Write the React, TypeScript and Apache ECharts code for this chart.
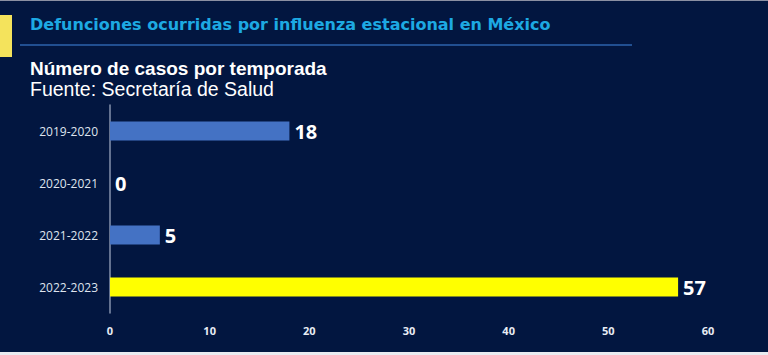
import React, { useEffect, useRef } from "react";
import * as echarts from "echarts";

const categories = ["2019-2020", "2020-2021", "2021-2022", "2022-2023"];
const values = [18, 0, 5, 57];
const barColors = ["#4472c4", "#4472c4", "#4472c4", "#ffff00"];
const xTicks = [0, 10, 20, 30, 40, 50, 60];

const titleText = "Defunciones ocurridas por influenza estacional en México";
const subtitleText = "Número de casos por temporada";
const sourceText = "Fuente: Secretaría de Salud";

export default function App() {
  const ref = useRef<HTMLDivElement>(null);
  useEffect(() => {
    if (!ref.current) return;
    const chart = echarts.init(ref.current, null, { renderer: "svg" });
    chart.setOption({
      animation: false,
      backgroundColor: "#021640",
      grid: { left: 110, right: 60, top: 105, bottom: 42, containLabel: false },
      xAxis: {
        type: "value",
        min: xTicks[0],
        max: xTicks[xTicks.length - 1],
        interval: 10,
        splitLine: { show: false },
        axisLine: { show: false },
        axisTick: { show: false },
        axisLabel: {
          color: "#e8ecf4",
          fontFamily: "Open Sans",
          fontWeight: "bold",
          fontSize: 11,
          margin: 12,
        },
      },
      yAxis: {
        type: "category",
        data: categories,
        inverse: true,
        axisLine: { show: true, lineStyle: { color: "#8592ad", width: 1.5 } },
        axisTick: { show: false },
        axisLabel: {
          color: "#dfe4ee",
          fontFamily: "Open Sans",
          fontSize: 12,
          margin: 12,
        },
      },
      series: [
        {
          type: "bar",
          barWidth: 19,
          data: values.map((v, i) => ({ value: v, itemStyle: { color: barColors[i] } })),
          label: {
            show: true,
            position: "right",
            distance: 5,
            color: "#ffffff",
            fontFamily: "Open Sans",
            fontWeight: "bold",
            fontSize: 20,
          },
        },
      ],
      graphic: [
        { type: "rect", left: 0, top: 0, shape: { width: 768, height: 1 }, style: { fill: "#8b90a3" } },
        { type: "rect", left: 0, top: 15, shape: { width: 12, height: 42 }, style: { fill: "#f4e35c" } },
        {
          type: "text",
          left: 30,
          top: 16,
          style: {
            text: titleText,
            fill: "#1da9e3",
            font: "bold 16px 'DejaVu Sans'",
          },
        },
        {
          type: "line",
          shape: { x1: 20, y1: 45, x2: 632, y2: 45 },
          style: { stroke: "#2d63ad", lineWidth: 1.5 },
        },
        {
          type: "text",
          left: 30,
          top: 59,
          style: { text: subtitleText, fill: "#ffffff", font: "bold 19px 'Liberation Sans'" },
        },
        {
          type: "text",
          left: 30,
          top: 79,
          style: { text: sourceText, fill: "#ffffff", font: "19.5px 'Liberation Sans'" },
        },
        { type: "rect", left: 0, top: 352, shape: { width: 768, height: 3 }, style: { fill: "#e9ebf0" } },
      ],
    });
    return () => chart.dispose();
  }, []);
  return (
    <div
      ref={ref}
      style={{ position: "fixed", left: 0, top: 0, width: 768, height: 355 }}
    />
  );
}
